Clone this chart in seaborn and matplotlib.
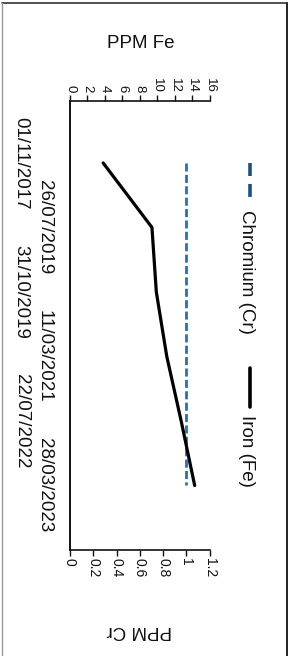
import matplotlib
matplotlib.use("Agg")
import matplotlib.pyplot as plt
from matplotlib.lines import Line2D
import seaborn as sns
import pandas as pd

# ---- data ----
dates = ["01/11/2017", "26/07/2019", "31/10/2019", "11/03/2021", "22/07/2022", "28/03/2023"]
iron_fe = [3.8, 9.4, 9.9, 11.1, 12.75, 14.3]
chromium_cr = [1.0, 1.0, 1.0, 1.0, 1.0, 1.0]
fe_ticks = [0, 2, 4, 6, 8, 10, 12, 14, 16]
cr_ticks = [0, 0.2, 0.4, 0.6, 0.8, 1, 1.2]
cr_tick_labels = ["0", "0.2", "0.4", "0.6", "0.8", "1", "1.2"]

sns.set_style("white")
plt.rcParams["font.family"] = ["Liberation Sans", "DejaVu Sans"]

W, H = 294, 656
fig = plt.figure(figsize=(W / 100, H / 100), dpi=100)
fig.patch.set_facecolor("white")

# axes in pixel coordinates (rotated chart: dates run downward)
left_px, right_px, top_px, bot_px = 70, 209.5, 101, 550
ax = fig.add_axes([left_px / W, 1 - bot_px / H, (right_px - left_px) / W, (bot_px - top_px) / H])

df = pd.DataFrame({"date": dates, "pos": list(range(len(dates))),
                   "fe": iron_fe, "cr": chromium_cr})

cr_color = "#2470bd"
sns.lineplot(data=df, x="cr", y="pos", sort=False, estimator=None, ax=ax, color=cr_color,
             lw=2.0, linestyle=(0, (2.9, 1.2)))
ax.set_xlim(0, 1.2)

ax2 = ax.twiny()
sns.lineplot(data=df, x="fe", y="pos", sort=False, estimator=None, ax=ax2, color="black", lw=2.3)
ax2.set_xlim(0, 16)

for a in (ax, ax2):
    a.set_xlabel("")
    a.set_ylabel("")
    for s in a.spines.values():
        s.set_visible(False)

# spines
ax.spines["left"].set_visible(True)
ax.spines["left"].set_linewidth(1.4)
ax.spines["left"].set_color("#111111")
ax.spines["bottom"].set_visible(True)
ax.spines["bottom"].set_linewidth(1.2)
ax.spines["bottom"].set_color("#111111")
ax2.spines["top"].set_visible(True)
ax2.spines["top"].set_linewidth(1.2)
ax2.spines["top"].set_color("#111111")

# bottom axis (PPM Cr)
ax.set_xticks(cr_ticks)
ax.set_xticklabels(cr_tick_labels, rotation=270, fontsize=10)
ax.tick_params(axis="x", bottom=True, length=4, width=1, direction="out", pad=2, colors="#111111")

# top axis (PPM Fe)
ax2.set_xticks(fe_ticks)
ax2.set_xticklabels([str(t) for t in fe_ticks], rotation=270, fontsize=9.5)
ax2.tick_params(axis="x", top=True, bottom=False, labeltop=True, labelbottom=False,
                length=4, width=1, direction="out", pad=2, colors="#111111")

# date axis (left)
ax.set_yticks(df["pos"])
ax.set_yticklabels(dates, rotation=270, fontsize=13.5, va="center")
ax.tick_params(axis="y", left=True, length=0, colors="#111111")
for i, t in enumerate(ax.yaxis.get_major_ticks()):
    t.set_pad(12.5 if i % 2 == 1 else 29.0)
ax.set_ylim(6.0, -0.96)

# axis titles
fig.text(141 / W, 1 - 43 / H, "PPM Fe", ha="center", va="center", fontsize=13.5, color="#111111")
fig.text(139 / W, 1 - 630 / H, "PPM Cr", ha="center", va="center", fontsize=13.5,
         rotation=180, color="#111111")

# legend (rotated, drawn manually)
lx = 250 / W
fig.add_artist(Line2D([lx, lx], [1 - 163 / H, 1 - 197 / H], color="#1d4f86", lw=2.6,
                      linestyle=(0, (3.6, 2.2))))
fig.text(247 / W, 1 - 210 / H, "Chromium (Cr)", ha="center", va="top", rotation=270,
         fontsize=13.5, color="#111111")
fig.add_artist(Line2D([lx, lx], [1 - 368 / H, 1 - 407 / H], color="black", lw=2.6))
fig.text(247 / W, 1 - 415 / H, "Iron (Fe)", ha="center", va="top", rotation=270,
         fontsize=13.5, color="#111111")

# outer frame of the scanned chart
fig.add_artist(Line2D([2 / W, 287 / W], [1 - 3 / H, 1 - 3 / H], color="#333333", lw=1.2))
fig.add_artist(Line2D([2 / W, 2 / W], [1 - 3 / H, 0], color="#999999", lw=1.0))
fig.add_artist(Line2D([287 / W, 287 / W], [1 - 3 / H, 0], color="#222222", lw=1.4))

fig.savefig("out.png", dpi=100, facecolor="white")
